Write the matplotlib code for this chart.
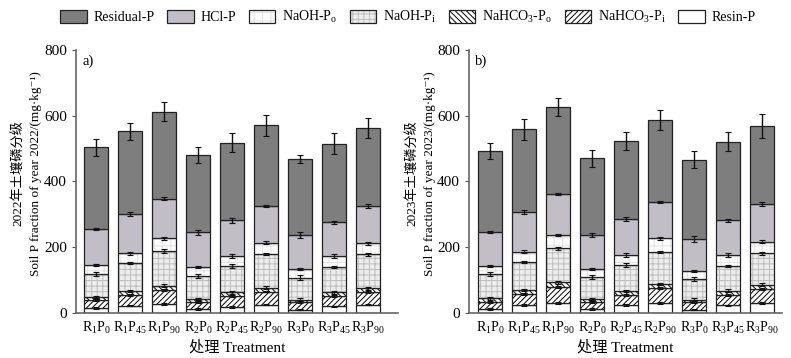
import numpy as np
import matplotlib
matplotlib.use('Agg')
from matplotlib import pyplot as plt
from matplotlib.patches import Patch

plt.rcParams['font.family'] = ['Liberation Serif', 'Noto Sans CJK SC', 'DejaVu Serif']
plt.rcParams['mathtext.fontset'] = 'custom'
plt.rcParams['mathtext.rm'] = 'Liberation Serif'
plt.rcParams['mathtext.default'] = 'regular'
plt.rcParams['hatch.linewidth'] = 0.7

treatments = ['R$_1$P$_0$', 'R$_1$P$_{45}$', 'R$_1$P$_{90}$',
              'R$_2$P$_0$', 'R$_2$P$_{45}$', 'R$_2$P$_{90}$',
              'R$_3$P$_0$', 'R$_3$P$_{45}$', 'R$_3$P$_{90}$']

# fractions, bottom to top
fractions = ['Resin-P', 'NaHCO$_3$-P$_i$', 'NaHCO$_3$-P$_o$', 'NaOH-P$_i$',
             'NaOH-P$_o$', 'HCl-P', 'Residual-P']

# year 2022 (panel a)
resin_22 = [15, 22, 27, 12, 18, 25, 10, 20, 25]
nahco3_pi_22 = [23, 33, 43, 20, 32, 40, 22, 30, 38]
nahco3_po_22 = [10, 12, 13, 10, 12, 12, 8, 12, 12]
naoh_pi_22 = [71, 84, 105, 69, 81, 102, 67, 77, 103]
naoh_po_22 = [27, 30, 39, 28, 30, 35, 26, 34, 33]
hcl_22 = [109, 119, 120, 106, 108, 110, 104, 102, 113]
residual_22 = [248, 252, 265, 235, 237, 246, 231, 240, 239]

# year 2023 (panel b)
resin_23 = [12, 24, 30, 12, 24, 30, 10, 23, 30]
nahco3_pi_23 = [22, 33, 49, 21, 31, 46, 22, 32, 44]
nahco3_po_23 = [10, 13, 14, 9, 12, 12, 8, 13, 12]
naoh_pi_23 = [75, 84, 103, 67, 79, 98, 63, 75, 95]
naoh_po_23 = [24, 32, 41, 24, 30, 41, 23, 33, 36]
hcl_23 = [104, 121, 125, 104, 110, 109, 99, 105, 113]
residual_23 = [246, 251, 263, 233, 237, 251, 241, 240, 238]

# standard errors
err_resin = [2, 2, 2, 2, 2, 2, 2, 2, 2]
err_nahco3_pi = [3, 3, 3, 3, 3, 3, 3, 3, 3]
err_nahco3_po = [4, 4, 4, 4, 4, 4, 4, 4, 4]
err_naoh_pi = [6, 3, 5, 6, 5, 3, 7, 3, 4]
err_naoh_po = [4, 5, 4, 3, 6, 4, 3, 5, 4]
err_hcl = [3, 6, 4, 7, 7, 3, 8, 4, 6]
err_residual_22 = [26, 25, 30, 25, 29, 31, 13, 31, 30]
err_residual_23 = [25, 31, 27, 25, 27, 31, 27, 29, 36]

# face colour, hatch, hatch colour
styles = [('white', '', 'white'),
          ('white', '//////', 'black'),
          ('white', '\\\\\\\\\\\\', 'black'),
          ('#ededed', '+++', '#bdbdbd'),
          ('#fcfcfc', '++', '#e2e2e2'),
          ('#c2bec6', '', '#c2bec6'),
          ('#7e7e7e', '', '#7e7e7e')]


def stacked(ax, layers, errs, xlim, tag):
    x = np.arange(len(treatments))
    bottom = np.zeros(len(treatments))
    for vals, err, (fc, hatch, hc) in zip(layers, errs, styles):
        vals = np.array(vals, dtype=float)
        ax.bar(x, vals, 0.7, bottom=bottom, color=fc, edgecolor=hc, hatch=hatch, linewidth=0)
        ax.bar(x, vals, 0.7, bottom=bottom, fill=False, edgecolor='#222222', linewidth=0.9)
        ax.errorbar(x, bottom + vals, yerr=err, fmt='none', ecolor='#111111',
                    elinewidth=1, capsize=2.2, capthick=0.8)
        bottom += vals
    ax.set_xlim(*xlim)
    ax.set_ylim(0, 800)
    ax.set_yticks([0, 200, 400, 600, 800])
    ax.set_xticks(x)
    ax.set_xticklabels(treatments, fontsize=10)
    ax.tick_params(axis='x', length=0, pad=5)
    ax.tick_params(axis='y', labelsize=11, length=3, color='#555555', direction='out')
    for s in ['top', 'right']:
        ax.spines[s].set_visible(False)
    for s in ['left', 'bottom']:
        ax.spines[s].set_color('#666666')
        ax.spines[s].set_linewidth(1.2)
    ax.text(0.02, 0.955, tag, transform=ax.transAxes, fontsize=10.5, va='center')
    ax.set_xlabel('处理 Treatment', fontsize=11, labelpad=3)


fig = plt.figure(figsize=(7.91, 3.58), dpi=100)
ax1 = fig.add_axes([0.096, 0.126, 0.407, 0.735])
ax2 = fig.add_axes([0.593, 0.126, 0.396, 0.735])

errs_common = [err_resin, err_nahco3_pi, err_nahco3_po, err_naoh_pi, err_naoh_po, err_hcl]
stacked(ax1, [resin_22, nahco3_pi_22, nahco3_po_22, naoh_pi_22, naoh_po_22, hcl_22, residual_22],
        errs_common + [err_residual_22], (-0.6, 8.88), 'a)')
stacked(ax2, [resin_23, nahco3_pi_23, nahco3_po_23, naoh_pi_23, naoh_po_23, hcl_23, residual_23],
        errs_common + [err_residual_23], (-0.62, 8.6), 'b)')

ax1.set_ylabel('2022年土壤磷分级\nSoil P fraction of year 2022/(mg·kg⁻¹)', fontsize=9.5,
               linespacing=1.5)
ax2.set_ylabel('2023年土壤磷分级\nSoil P fraction of year 2023/(mg·kg⁻¹)', fontsize=9.5,
               linespacing=1.5)
ax1.yaxis.set_label_coords(-0.105, 0.53)
ax2.yaxis.set_label_coords(-0.105, 0.53)

handles = []
for fc, hatch, hc in styles:
    fill = Patch(facecolor=fc, edgecolor=hc, hatch=hatch, linewidth=0)
    edge = Patch(fill=False, edgecolor='#222222', linewidth=0.9)
    handles.append((fill, edge))
fig.legend(handles[::-1], fractions[::-1], loc='upper center', bbox_to_anchor=(0.516, 1.01),
           ncol=7, frameon=False, fontsize=10, handlelength=1.9, handleheight=1.1,
           columnspacing=0.9, handletextpad=0.5)

fig.savefig('out.png', dpi=100)
